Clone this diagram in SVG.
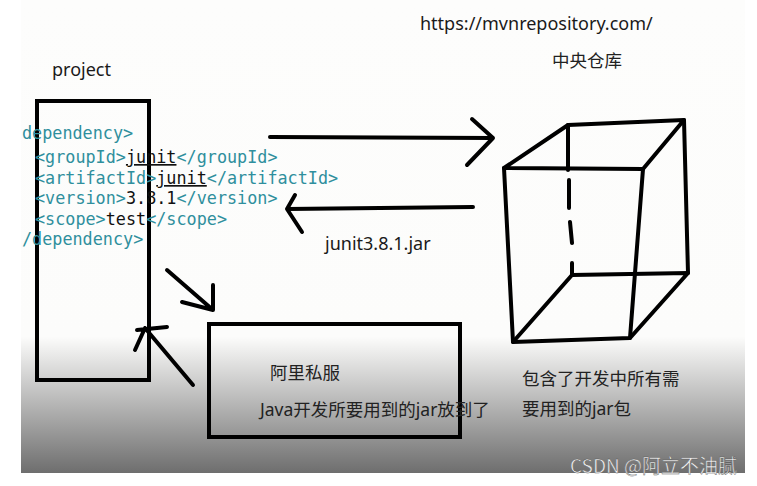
<svg xmlns="http://www.w3.org/2000/svg" width="757" height="486" viewBox="0 0 757 486">
  <defs>
    <linearGradient id="bg" gradientUnits="userSpaceOnUse" x1="0" y1="0" x2="0" y2="473">
      <stop offset="0" stop-color="#fdfdfc"/>
      <stop offset="0.712" stop-color="#fcfcfb"/>
      <stop offset="1" stop-color="#6e6e6e"/>
    </linearGradient>
    <style>
      .ink { fill: none; stroke: #000; stroke-width: 4; stroke-linecap: round; stroke-linejoin: round; }
      .box { fill: none; stroke: #000; stroke-width: 4; }
      .code { font-family: "DejaVu Sans Mono", "Liberation Mono", monospace; font-size: 16.8px; fill: #2f8f9d; }
      .val { fill: #111; }
      .lat { font-family: "Noto Sans", "Noto Sans CJK SC", sans-serif; font-size: 18px; fill: #1a1a1a; }
      .cjk { font-family: "Noto Sans", "Noto Sans CJK SC", sans-serif; font-size: 17.5px; fill: #222; }
      .wm { font-family: "Noto Sans CJK SC", sans-serif; font-size: 19px; fill: #f2f2f2; stroke: #555; stroke-width: 0.4; }
    </style>
  </defs>
  <rect x="0" y="0" width="757" height="486" fill="#ffffff"/>
  <rect x="21" y="0" width="724" height="473" fill="url(#bg)"/>

  <g id="project">
    <text class="lat" x="52" y="76">project</text>
    <rect class="box" x="37" y="101" width="112" height="279"/>
  </g>

  <g id="pom-code" class="code">
    <text x="22" y="139">dependency&gt;</text>
    <text x="35" y="163">&lt;groupId&gt;<tspan class="val" text-decoration="underline">junit</tspan>&lt;/groupId&gt;</text>
    <text x="35" y="184">&lt;artifactId&gt;<tspan class="val" text-decoration="underline">junit</tspan>&lt;/artifactId&gt;</text>
    <text x="35" y="204">&lt;version&gt;<tspan class="val">3.8.1</tspan>&lt;/version&gt;</text>
    <text x="35" y="225">&lt;scope&gt;<tspan class="val">test</tspan>&lt;/scope&gt;</text>
    <text x="22" y="245">/dependency&gt;</text>
  </g>

  <g id="central-repo">
    <text class="lat" x="420" y="30">https://mvnrepository.com/</text>
    <text class="cjk" x="552" y="67">中央仓库</text>
    <g class="ink">
      <path d="M504,168 L568,125 L684,120 L643,169 Z"/>
      <path d="M684,120 L688,273"/>
      <path d="M504,168 L513,342 L630,338 L643,169"/>
      <path d="M572,275 L688,273 L630,338"/>
      <path d="M572,275 L513,342"/>
      <path d="M568,125 L568,170 M569,180 L569,208 M570,222 L572,243 M572,263 L572,275"/>
    </g>
    <text class="cjk" x="522" y="385">包含了开发中所有需</text>
    <text class="cjk" x="522" y="415">要用到的jar包</text>
  </g>

  <g id="aliyun-mirror">
    <rect class="box" x="209" y="324" width="251" height="113"/>
    <text class="cjk" x="270" y="379">阿里私服</text>
    <text class="cjk" x="260" y="416">Java开发所要用到的jar放到了</text>
  </g>

  <g id="connectors" class="ink">
    <path d="M270,137 L493,138 M472,119 L493,138 L467,165"/>
    <path d="M473,207 L287,209 M295,195 L287,209 L302,232"/>
    <path d="M167,270 L213,310 M213,285 L213,310 L182,302"/>
    <path d="M193,385 L145,328 M135,350 L145,328 M137,330 L167,327"/>
  </g>
  <text class="lat" x="325" y="250">junit3.8.1.jar</text>

  <text class="wm" x="570" y="473">CSDN @阿立不油腻</text>
</svg>
